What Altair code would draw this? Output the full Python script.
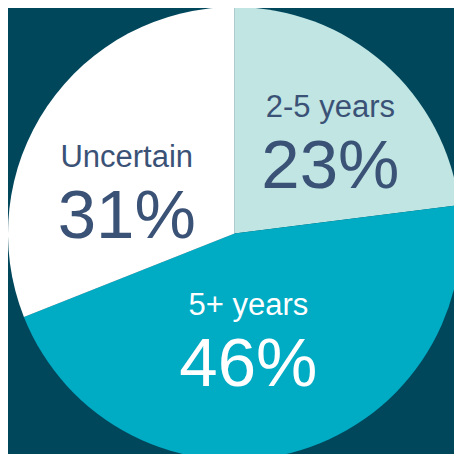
import altair as alt
import pandas as pd

categories = ["2-5 years", "5+ years", "Uncertain"]
shares = [23, 46, 31]
pct_labels = ["23%", "46%", "31%"]
slice_order = [0, 1, 2]
slice_colors = ["#C0E5E2", "#00ABC4", "#FFFFFF"]
text_colors = ["#3B5277", "#FFFFFF", "#3B5277"]

df = pd.DataFrame({
    "category": categories,
    "share": shares,
    "pct": pct_labels,
    "order": slice_order,
})

CX, CY, R = 226.5, 225.5, 226.5
FONT = "Liberation Sans"

theta_scale = alt.Scale(domain=[0, 100])

base = alt.Chart(df).transform_window(
    cum="sum(share)", sort=[alt.SortField("order")]
).transform_calculate(
    start="datum.cum - datum.share",
    mid="datum.cum - datum.share / 2",
).encode(
    x=alt.value(CX),
    y=alt.value(CY),
)

pie = base.mark_arc(radius=R).encode(
    theta=alt.Theta("start:Q", scale=theta_scale),
    theta2="cum:Q",
    color=alt.Color("category:N", scale=alt.Scale(domain=categories, range=slice_colors), legend=None),
)

# thin separator on the light slice edge (as in the reference)
sep = base.transform_filter(alt.datum.category == "2-5 years").mark_arc(
    radius=R, fill="#C0E5E2", stroke="#9FC8C8", strokeWidth=0.8
).encode(
    theta=alt.Theta("start:Q", scale=theta_scale),
    theta2="cum:Q",
)

# per-slice label offsets from the mid-angle anchor
offsets = {"2-5 years": (16.5, -26.5), "5+ years": (-16, -34.7), "Uncertain": (-8.5, 1)}
PCT_GAP = 71

layers = [pie]
for cat, col in zip(categories, text_colors):
    dx, dy = offsets[cat]
    sub = base.transform_filter(alt.datum.category == cat).encode(
        theta=alt.Theta("mid:Q", scale=theta_scale)
    )
    layers.append(sub.mark_text(radius=120, font=FONT, fontSize=31, color=col,
                                align="center", baseline="alphabetic", dx=dx, dy=dy)
                  .encode(text="category:N"))
    layers.append(sub.mark_text(radius=120, font=FONT, fontSize=69, color=col,
                                align="center", baseline="alphabetic", dx=dx, dy=dy + PCT_GAP)
                  .encode(text="pct:N"))

chart = alt.layer(*layers).properties(
    width=446, height=446, background="#00475C", padding=0,
    autosize=alt.AutoSizeParams(type="none"),
).configure_view(stroke=None)

chart.save("out.html", embed_options={"renderer": "svg", "actions": False})
